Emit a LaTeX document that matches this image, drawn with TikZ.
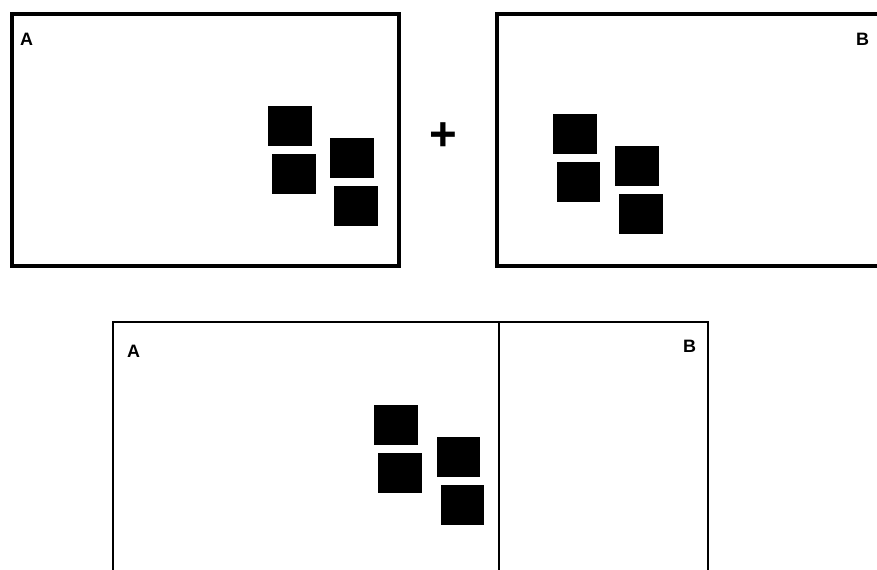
\documentclass[tikz,border=0pt]{standalone}
\usepackage{fontspec}
\setsansfont{Liberation Sans}

\begin{document}
\begin{tikzpicture}[
    x=0.02cm, y=-0.02cm,
    frame/.style={draw, line width=1.9pt},
    wall/.style={draw, line width=1.3pt},
    tile/.style={rectangle, fill=black, inner sep=0pt, minimum width=0.88cm, minimum height=0.8cm},
    tag/.style={font=\sffamily\bfseries\fontsize{10.2}{12}\selectfont, inner sep=0pt},
    plus/.style={font=\sffamily\bfseries\fontsize{27}{27}\selectfont, inner sep=0pt}
]
\useasboundingbox (0,0) rectangle (877,569);

\begin{scope}
\clip (0,0) rectangle (877,569);

% Top left frame A
\draw[frame] (12,14) rectangle (399,266);
\node[tag] (tagA) at (26.5,39) {A};
\node[tile] (a1) at (290,126) {};
\node[tile] (a2) at (294,174) {};
\node[tile] (a3) at (352,158) {};
\node[tile] (a4) at (356,206) {};

% Plus sign
\node[plus] (sum) at (443,137) {+};

% Top right frame B
\draw[frame] (497,14) rectangle (900,266);
\node[tag] (tagB) at (862.5,39.5) {B};
\node[tile] (b1) at (575,134) {};
\node[tile] (b2) at (578.5,182) {};
\node[tile] (b3) at (637,166) {};
\node[tile] (b4) at (641,214) {};

% Combined frame
\draw[frame, line width=1.7pt] (113,322) rectangle (708,600);
\draw[wall] (499,322) -- (499,600);
\node[tag] (tagAB) at (133.5,351) {A};
\node[tag] (tagBA) at (689.5,346) {B};
\node[tile] (c1) at (396,424.5) {};
\node[tile] (c2) at (400,473) {};
\node[tile] (c3) at (458.5,456.5) {};
\node[tile] (c4) at (462.5,504.5) {};
\end{scope}

\end{tikzpicture}
\end{document}
